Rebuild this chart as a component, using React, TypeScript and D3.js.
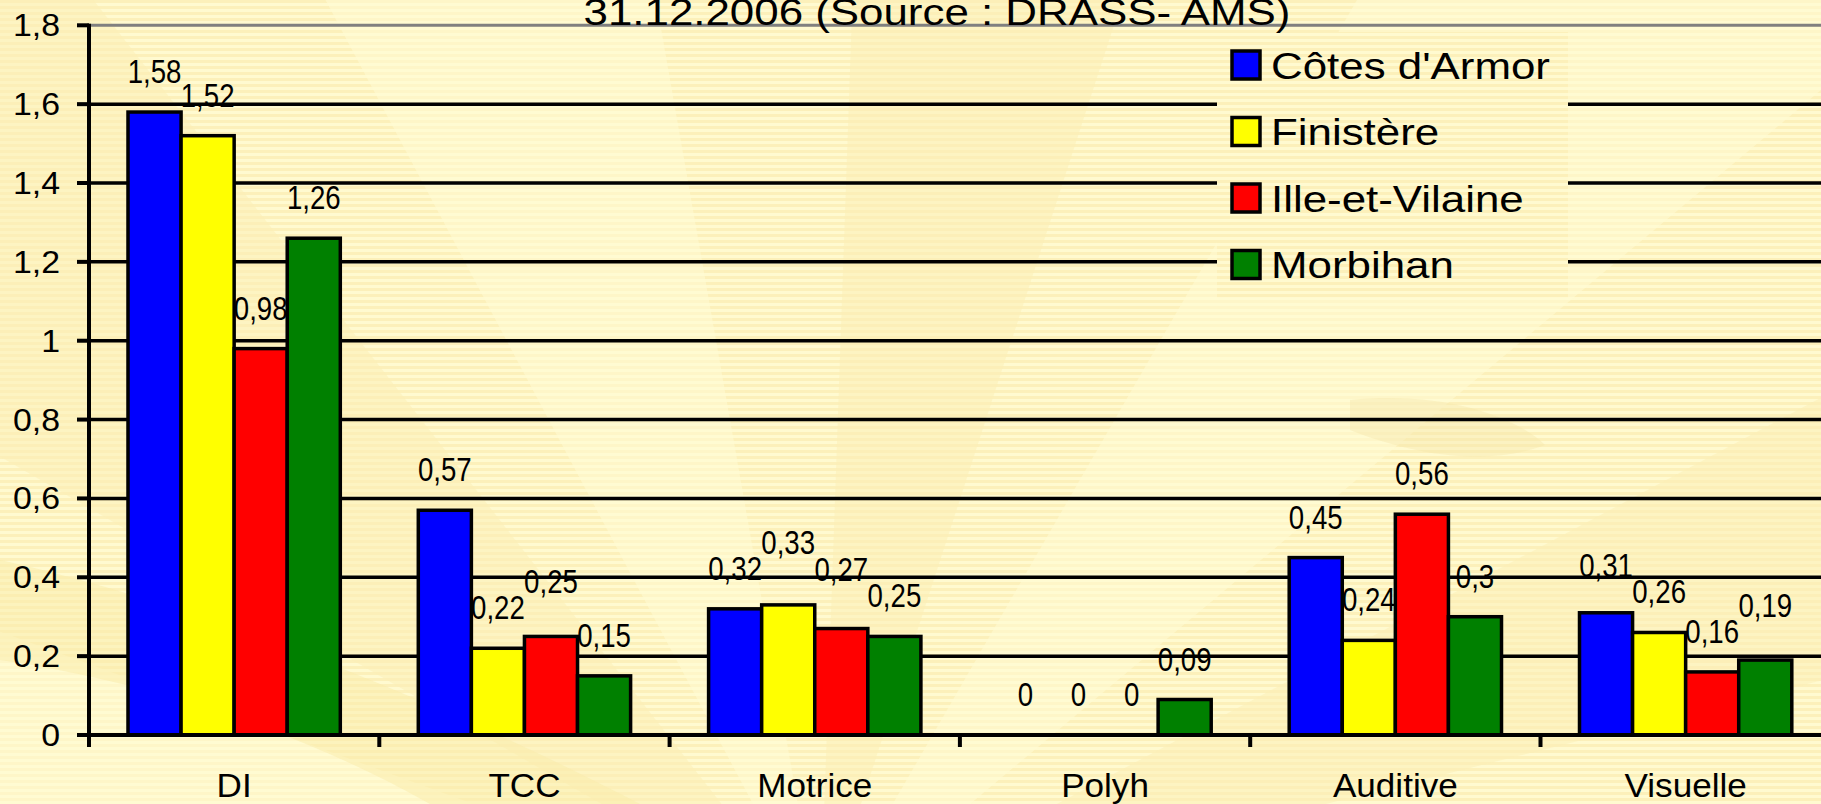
import React from 'react';
import * as d3 from 'd3';

const categories = ['DI', 'TCC', 'Motrice', 'Polyh', 'Auditive', 'Visuelle'];
const seriesNames = ["Côtes d'Armor", 'Finistère', 'Ille-et-Vilaine', 'Morbihan'];
const seriesColors = ['#0000FF', '#FFFF00', '#FF0000', '#008000'];
const cotesArmor = [1.58, 0.57, 0.32, 0, 0.45, 0.31];
const finistere = [1.52, 0.22, 0.33, 0, 0.24, 0.26];
const illeEtVilaine = [0.98, 0.25, 0.27, 0, 0.56, 0.16];
const morbihan = [1.26, 0.15, 0.25, 0.09, 0.3, 0.19];
const yTicks = [0, 0.2, 0.4, 0.6, 0.8, 1, 1.2, 1.4, 1.6, 1.8];
const titleText = '31.12.2006 (Source : DRASS- AMS)';

const series = [cotesArmor, finistere, illeEtVilaine, morbihan];

const W = 1821;
const H = 804;
const FONT = '"Liberation Sans", Arial, sans-serif';

const fmt = (v: number) => String(v).replace('.', ',');

// stretched / condensed text like the original slide
const SText: React.FC<{ x: number; y: number; sx: number; size: number; anchor?: string; children: React.ReactNode }> =
  ({ x, y, sx, size, anchor = 'start', children }) => (
    <text transform={`translate(${x},${y}) scale(${sx},1)`} textAnchor={anchor as any}
      fontSize={size} fontFamily={FONT} fill="#000">{children}</text>
  );

const App: React.FC = () => {
  const x0 = 89;
  const bandW = 290.3;
  const x = d3.scaleBand<string>().domain(categories).range([x0, x0 + bandW * categories.length]).padding(0);
  const xs = d3.scaleBand<number>().domain(d3.range(seriesNames.length)).range([39, bandW - 39]).padding(0);
  const y = d3.scaleLinear().domain([0, 1.8]).range([735, 25.3]);

  const rays = [
    [-200, -160], [-150, -128], [-118, -100], [-88, -72], [-60, -40], [-28, -14],
  ];
  const cx = 820, cy = 930;
  const rayPath = (a0: number, a1: number) => {
    const r = 1400;
    const p = d3.path();
    p.moveTo(cx, cy);
    p.lineTo(cx + r * Math.cos(a0 * Math.PI / 180), cy + r * Math.sin(a0 * Math.PI / 180));
    p.lineTo(cx + r * Math.cos(a1 * Math.PI / 180), cy + r * Math.sin(a1 * Math.PI / 180));
    p.closePath();
    return p.toString();
  };

  // label positions: above bar, the higher of two colliding neighbours moves up
  const labelSize = 32.5;
  const labelW = (s: string) => s.length * 0.49 * labelSize * 0.85;
  const labels = categories.map((c, ci) => {
    const out = series.map((s, si) => ({
      v: s[ci],
      x: (x(c) as number) + (xs(si) as number) + xs.bandwidth() / 2,
      y: y(s[ci]) - 29,
    }));
    for (let i = 1; i < out.length; i++) {
      const a = out[i - 1], b = out[i];
      const hOver = (labelW(fmt(a.v)) + labelW(fmt(b.v))) / 2 - (b.x - a.x);
      if (hOver > -4 && Math.abs(a.y - b.y) < 20) {
        if (b.v >= a.v) b.y = a.y - 26; else a.y = b.y - 26;
      }
    }
    return out;
  });

  const legendY = (i: number) => 65 + i * 66.5;

  return (
    <svg width={W} height={H} viewBox={`0 0 ${W} ${H}`}
      style={{ position: 'absolute', left: 0, top: 0, display: 'block' }}>
      <defs>
        <pattern id="stripes" width="8" height="6" patternUnits="userSpaceOnUse">
          <rect width="8" height="6" fill="#FFFAD0" />
          <rect y="0" width="8" height="3" fill="#FCF0BA" />
        </pattern>
      </defs>
      <rect width={W} height={H} fill="url(#stripes)" />
      {rays.map(([a0, a1], i) => (
        <path key={i} d={rayPath(a0, a1)} fill={i % 2 ? '#FBEFB6' : '#FFFBD4'} opacity={0.55} />
      ))}
      <path d="M0,560 C180,600 420,690 640,804 L430,804 C300,730 140,680 0,660 Z" fill="#F9EBAA" opacity={0.5} />
      <path d="M1350,400 C1450,390 1520,420 1545,445 C1480,470 1400,450 1350,430 Z" fill="#F5E6AA" opacity={0.4} />

      {/* gridlines */}
      {yTicks.filter(t => t > 0).map(t => (
        <line key={t} x1={x0} x2={W} y1={y(t)} y2={y(t)}
          stroke={t === 1.8 ? '#808080' : '#000'} strokeWidth={t === 1.8 ? 3 : 3.5} />
      ))}

      {/* legend background hides gridlines */}
      <rect x={1217} y={32} width={351} height={266} fill="url(#stripes)" />

      {/* bars */}
      {categories.map((c, ci) => (
        <g key={c} transform={`translate(${x(c)},0)`}>
          {series.map((s, si) => s[ci] > 0 ? (
            <rect key={si} x={xs(si)} y={y(s[ci])} width={xs.bandwidth()} height={y(0) - y(s[ci])}
              fill={seriesColors[si]} stroke="#000" strokeWidth={3.5} />
          ) : null)}
        </g>
      ))}

      {/* value labels */}
      {labels.map((grp, ci) => grp.map((l, si) => (
        <SText key={ci + '-' + si} x={l.x} y={l.y} sx={0.85} size={labelSize} anchor="middle">{fmt(l.v)}</SText>
      )))}

      {/* axes */}
      <line x1={x0} x2={x0} y1={y(1.8) - 1.5} y2={y(0) + 12} stroke="#000" strokeWidth={4} />
      <line x1={77} x2={W} y1={y(0)} y2={y(0)} stroke="#000" strokeWidth={4} />
      {yTicks.map(t => (
        <g key={t}>
          <line x1={77} x2={x0} y1={y(t)} y2={y(t)} stroke="#000" strokeWidth={4} />
          <SText x={60} y={y(t) + 11} sx={1.11} size={30.5} anchor="end">{fmt(t)}</SText>
        </g>
      ))}
      {categories.map((c) => (
        <g key={c}>
          <line x1={(x(c) as number) + bandW} x2={(x(c) as number) + bandW} y1={y(0)} y2={y(0) + 12}
            stroke="#000" strokeWidth={4} />
          <SText x={(x(c) as number) + bandW / 2} y={797} sx={1.08} size={32.5} anchor="middle">{c}</SText>
        </g>
      ))}

      {/* title (partly cut by the frame, as in the source) */}
      <SText x={937} y={25} sx={1.17} size={37.5} anchor="middle">{titleText}</SText>

      {/* legend */}
      {seriesNames.map((n, i) => (
        <g key={n}>
          <rect x={1232} y={legendY(i) - 14} width={28} height={28} fill={seriesColors[i]} stroke="#000" strokeWidth={3.5} />
          <SText x={1271} y={legendY(i) + 13.5} sx={1.17} size={37.5}>{n}</SText>
        </g>
      ))}
    </svg>
  );
};

export default App;
